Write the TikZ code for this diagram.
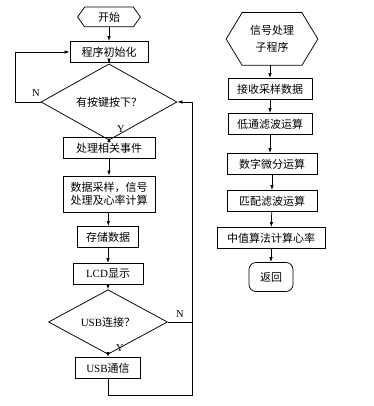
\documentclass[tikz,border=0pt]{standalone}
\usepackage{fontspec}
\setmainfont{Liberation Serif}
\newfontfamily\cjk{Noto Sans CJK SC}
\usetikzlibrary{shapes.geometric,arrows.meta,calc}
\begin{document}
\begin{tikzpicture}[x=1pt,y=-1pt,
  line width=0.75pt,
  every node/.style={font=\cjk\fontsize{11}{13}\selectfont, inner sep=0pt},
  box/.style={draw, rectangle, minimum height=21},
  hexbox/.style={rectangle, minimum height=19},
  dec/.style={draw, diamond},
  term/.style={draw, rounded corners=7pt, minimum width=44, minimum height=29},
  lbl/.style={font=\rmfamily\fontsize{10.5}{12}\selectfont},
  arr/.style={-{Latex[length=5pt,width=3.5pt]}}
]
\useasboundingbox (0,0) rectangle (373,406);
% left column
\node[hexbox, minimum width=48] (start) at (109,17) {开始};
\draw (start.north west) -- (start.north east) -- ($(start.east)+(7,0)$) -- (start.south east) -- (start.south west) -- ($(start.west)+(-7,0)$) -- cycle;
\node[box, minimum width=78] (init) at (109,52) {程序初始化};
\node[dec, minimum width=136, minimum height=45] (d1) at (109,102) {有按键按下？};
\node[box, minimum width=92] (evt) at (109,148) {处理相关事件};
\node[box, minimum width=92, minimum height=36, align=center] (proc) at (109,194) {数据采样，信号\\处理及心率计算};
\node[box, minimum width=61] (store) at (108,237) {存储数据};
\node[box, minimum width=70] (lcd) at (108,274) {{\rmfamily LCD}显示};
\node[dec, minimum width=119, minimum height=42] (d2) at (108,322) {{\rmfamily USB}连接？};
\node[box, minimum width=65] (usb) at (108,368) {{\rmfamily USB}通信};
\coordinate (lL) at (15,102);
\coordinate (lT) at (15,52);
\coordinate (rB1) at (108,395);
\coordinate (rB2) at (192,395);
\coordinate (rT) at (192,102);
\coordinate (rM) at (192,322);
\node[lbl] (n1) at (36,93) {N};
\node[lbl] (y1) at (121,129) {Y};
\node[lbl] (n2) at (180,314) {N};
\node[lbl] (y2) at (120,348) {Y};
\draw[arr] (start) -- (init);
\draw[arr] (init) -- (d1);
\draw[arr] (d1) -- (evt);
\draw[arr] (evt) -- (proc);
\draw[arr] (proc) -- (store);
\draw[arr] (store) -- (lcd);
\draw[arr] (lcd) -- (d2);
\draw[arr] (d2) -- (usb);
\draw[arr] (d1.west) -- (lL) -- (lT) -- (init.west);
\draw[arr] (usb.south) -- (rB1) -- (rB2) -- (rT) -- (d1.east);
\draw (d2.east) -- (rM);
% right column
\node[hexbox, minimum width=59, minimum height=52, align=center, font=\cjk\fontsize{11}{17}\selectfont] (sub) at (272,39) {信号处理\\子程序};
\draw (sub.north west) -- (sub.north east) -- ($(sub.east)+(16,0)$) -- (sub.south east) -- (sub.south west) -- ($(sub.west)+(-16,0)$) -- cycle;
\node[box, minimum width=84] (recv) at (270,89) {接收采样数据};
\node[box, minimum width=84] (lpf) at (270,124) {低通滤波运算};
\node[box, minimum width=90] (diff) at (272,164) {数字微分运算};
\node[box, minimum width=90] (mf) at (272,201) {匹配滤波运算};
\node[box, minimum width=108] (med) at (271,238) {中值算法计算心率};
\node[term] (ret) at (271,277) {返回};
\draw[arr] (sub.south -| recv) -- (recv);
\draw[arr] (recv) -- (lpf);
\draw[arr] (lpf.south) -- (diff.north -| lpf);
\draw[arr] (diff) -- (mf);
\draw[arr] (mf) -- (med);
\draw[arr] (med) -- (ret);
\end{tikzpicture}
\end{document}
